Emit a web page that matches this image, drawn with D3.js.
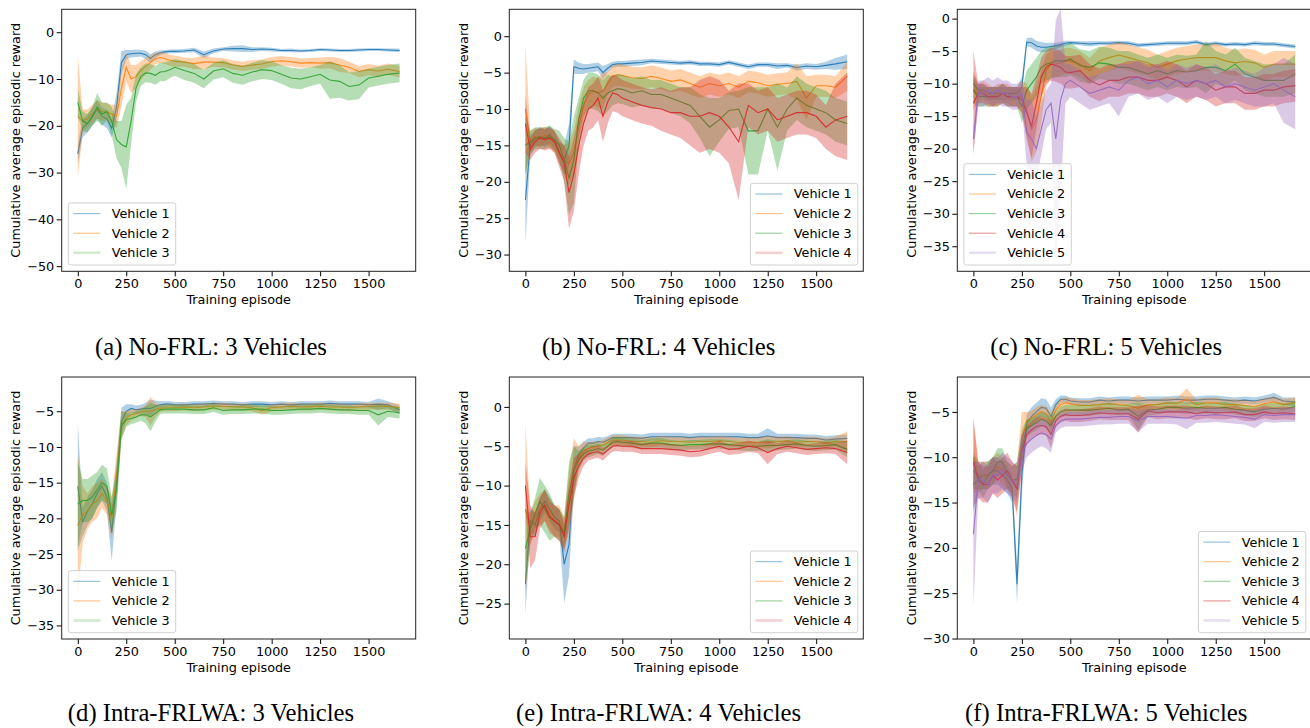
<!DOCTYPE html>
<html>
<head>
<meta charset="utf-8">
<script src="https://cdn.jsdelivr.net/npm/d3@7"></script>
<style>
  body { margin: 0; background: #fff; }
  svg { display: block; }
  .tick text { font-family: "DejaVu Sans", sans-serif; font-size: 12.8px; fill: #000; }
  .tick line { stroke: #000; }
  .domain { display: none; }
</style>
</head>
<body>
<div id="chart"></div>
<script>
// shared episode grid for every series
const episodes = [0,25,50,75,100,125,150,175,200,225,250,275,300,325,350,375,400,425,450,475,500,
  550,600,650,700,750,800,850,900,950,1000,1050,1100,1150,1200,1250,1300,1350,1400,1450,1500,1550,1600,1660];

const xTicks = [0,250,500,750,1000,1250,1500];

// (a) No-FRL: 3 vehicles
const a_v1 = [-26,-20.5,-19.5,-18,-16.5,-18,-18.5,-20.5,-16,-6.5,-4.8,-4.6,-4.5,-4.5,-4.8,-5.6,-4.8,-4.4,-4.2,-4.1,-4.1,
  -4.0,-3.8,-4.8,-4.0,-3.6,-3.5,-3.5,-3.7,-3.6,-3.7,-3.9,-3.9,-4.0,-3.9,-3.7,-3.8,-3.9,-3.9,-3.8,-3.7,-3.7,-3.8,-3.9];
const a_v1_band = [2,2,1.8,2,2,1.8,2,2,3,2.5,1,0.8,0.8,0.7,0.9,0.9,0.7,0.5,0.4,0.4,0.4,
  0.4,0.5,0.7,0.5,0.4,0.6,0.7,0.5,0.4,0.4,0.3,0.4,0.3,0.3,0.3,0.3,0.3,0.3,0.3,0.3,0.3,0.3,0.4];
const a_v2 = [-18,-19,-18.5,-17.5,-16.5,-17,-17,-17.5,-18,-12,-7.5,-10,-9.5,-8.2,-7.3,-6.5,-5.7,-5.4,-5.6,-6.0,-6.2,
  -6.4,-6.7,-6.4,-6.4,-6.5,-7.0,-7.3,-7.0,-6.8,-6.3,-6.1,-6.3,-6.6,-6.5,-6.6,-6.5,-7.0,-7.5,-8.4,-8.0,-8.3,-7.9,-8.4];
const a_v2_band = [13,2.5,2,2,2,2,1.8,2,2.5,4,3,3,2.5,2,1.8,1.5,1.2,1.2,1.2,1.2,1.2,
  1.0,1.2,1.5,1.0,1.0,1.0,1.0,1.0,1.0,1.0,1.0,1.0,1.0,1.0,1.2,1.2,1.5,1.2,1.2,1.2,1.2,1.2,1.2];
const a_v3 = [-15,-19,-19.5,-18,-16,-17.5,-17,-19,-23,-24,-24.5,-19,-12,-9.5,-8.7,-8.8,-9.2,-8.5,-8.4,-8.0,-7.5,
  -8.2,-8.8,-10.0,-8.3,-7.8,-8.8,-9.2,-8.5,-8.0,-8.2,-9.0,-9.8,-10.0,-9.5,-9.0,-10.2,-10.5,-11.6,-11.3,-9.8,-9.4,-9.0,-8.7];
const a_v3_band = [3,2,2,2,3,2.5,2,3,4,5,9,5,3,2,2,2,2,2,2,1.8,1.8,
  2,2,2,1.8,1.8,2,2,2,2,2,2,2.2,2.2,2,2,4,3.5,3,3,2,2,2,2];

// (b) No-FRL: 4 vehicles
const b_v1 = [-22.5,-15,-14,-13.8,-14,-13.5,-14.3,-16,-17,-15,-4.2,-4.4,-4.5,-4.4,-4.3,-4.2,-5.0,-4.4,-3.9,-3.8,-3.8,
  -3.7,-3.6,-3.4,-3.5,-3.6,-3.7,-3.6,-3.8,-3.8,-3.9,-3.6,-3.9,-4.2,-3.9,-3.9,-4.1,-4.0,-4.3,-4.1,-4.2,-4.0,-3.8,-3.5];
const b_v1_band = [6,1.5,1.2,1.2,1.2,1.2,1.2,1.5,2,3,1,0.8,0.7,0.6,0.6,0.6,0.9,0.6,0.4,0.4,0.4,
  0.4,0.4,0.3,0.3,0.3,0.3,0.3,0.3,0.3,0.3,0.3,0.3,0.3,0.3,0.3,0.4,0.3,0.4,0.4,0.4,0.5,0.8,1.0];
const b_v2 = [-10,-14.5,-13.8,-14,-13.6,-14,-14.5,-16,-17,-17.5,-16,-12.5,-9.5,-8.0,-7.5,-7.8,-7.5,-6.5,-5.5,-5.3,-5.4,
  -5.7,-5.8,-5.5,-5.8,-6.2,-6.0,-6.5,-7.0,-6.5,-6.8,-6.5,-7.0,-6.2,-6.4,-6.8,-6.6,-6.5,-6.2,-8.5,-6.8,-6.8,-7.0,-5.5];
const b_v2_band = [9,1.5,1.2,1.2,1.2,1.2,1.5,1.5,2,3,3,3,2.5,2,2,2,2.5,1.5,1.5,1.5,1.5,
  1.5,1.5,1.5,1.5,1.5,1.5,1.5,1.5,1.5,1.5,1.5,1.5,1.5,1.5,1.5,1.5,1.5,2.5,3,1.5,1.5,1.5,2];
const b_v3 = [-15,-14.5,-14,-14,-14,-13.8,-14.2,-15,-17,-19.5,-17,-11.5,-8.5,-7.5,-7.5,-7.8,-8.5,-7.8,-7.5,-7.2,-7.3,
  -7.8,-7.5,-8.0,-8.0,-8.5,-9.0,-9.5,-11.0,-12.5,-11.5,-10.2,-10.0,-13.0,-13.0,-10.0,-12.5,-10.0,-8.5,-9.5,-10.0,-10.5,-11.5,-12.0];
const b_v3_band = [4,1.5,1.5,1.5,1.5,1.5,1.5,2,3,5,6,3,2.5,2.5,2.5,2.5,2.5,2.5,2,2,2,
  2,2,2,2,2,2,2.5,3,4,3,2.5,2.5,6,6,3,6,3,3,3,3,3,3,3];
const b_v4 = [-12,-15.5,-14.5,-14,-14.2,-14,-14.5,-16,-17.5,-21.5,-19,-15,-12,-10,-9.5,-8.5,-11,-9,-7.8,-8.0,-8.5,
  -9.0,-9.5,-9.8,-10.0,-10.5,-10.5,-11.0,-11.0,-10.5,-11.0,-12.5,-14.5,-9.5,-10.5,-10.0,-11.5,-11.0,-10.5,-10.5,-11.0,-12.5,-11.5,-11.0];
const b_v4_band = [4,1.5,1.5,1.5,1.5,1.5,1.5,2,2.5,5,5,4,3,3,3,3,3.5,3,2.5,2.5,2.5,
  2.5,2.5,2.5,3,3,3.5,4,5,5,5,5,8,3,3,3,3,3,3,3,3,3,5,6];

// (c) No-FRL: 5 vehicles
const c_v1 = [-10,-11,-11,-11.5,-11.5,-11.5,-11.5,-11.5,-11.5,-11.5,-10.5,-3.6,-3.7,-4.2,-4.4,-4.4,-4.3,-4.2,-4.0,-3.8,-3.7,
  -3.8,-3.9,-3.8,-3.8,-3.7,-3.8,-4.1,-4.0,-3.9,-3.8,-3.8,-3.8,-3.6,-4.0,-3.8,-4.0,-3.9,-4.0,-3.8,-3.9,-3.9,-4.1,-4.3];
const c_v1_band = [1.5,1,1,1,1,1,1,1,1,1,1.5,0.6,0.8,0.8,0.8,0.7,0.6,0.5,0.4,0.4,0.3,
  0.3,0.4,0.3,0.3,0.3,0.3,0.3,0.3,0.3,0.3,0.3,0.3,0.3,0.3,0.3,0.3,0.3,0.3,0.3,0.3,0.3,0.3,0.3];
const c_v2 = [-11,-11.5,-11,-11.5,-12,-11.5,-11.5,-11.5,-12,-12,-12,-14,-17,-15.5,-12,-8,-7,-7,-6.8,-6.5,-6.5,
  -7.0,-8.0,-6.5,-6.0,-5.6,-6.0,-6.4,-6.8,-7.5,-7.0,-6.5,-6.2,-6.0,-6.0,-6.0,-6.5,-6.8,-6.6,-6.8,-7.5,-7.0,-7.0,-7.0];
const c_v2_band = [3,1.5,1.5,1.5,1.5,1.5,1.5,1.5,1.5,1.5,2.5,4,5,5,4,2.5,2,2,2,2,2,
  2,2,2,2,2,2,2,2,2,2,2,2,2,2,2.2,2,2,2,2,2,2,2,2];
const c_v3 = [-11,-12,-12,-12,-12,-12,-11.5,-12,-12,-12,-13.5,-11,-10,-9,-7.5,-7,-6.8,-6.5,-6.5,-6.5,-6.2,
  -7.2,-7.5,-6.8,-7.0,-7.5,-7.5,-8.0,-8.5,-8.0,-8.5,-8.0,-8.2,-8.0,-7.5,-7.5,-8.0,-7.0,-8.5,-9.0,-9.5,-9.5,-9.5,-8.5];
const c_v3_band = [2,1.5,1.5,1.5,1.5,1.5,1.5,1.5,1.5,1.5,2.5,3,3,3,2.5,2.5,2.5,2.5,2.5,2.5,2.5,
  2.5,2.5,2.5,2.5,2.5,2.5,2.5,2.5,2.5,2.5,2.5,2.5,2.5,4,2.5,2.5,2.5,2.5,2.5,2.5,2.5,2.5,3];
const c_v4 = [-13,-11.5,-11.5,-12,-12,-12,-11.5,-12,-12,-12,-12.5,-14.5,-16.5,-13,-9,-7.5,-7,-7.2,-7.5,-8.2,-8.3,
  -8.0,-9.5,-10.2,-9.5,-9.5,-9.0,-9.0,-9.5,-9.5,-9.0,-9.5,-10.5,-9.5,-10.0,-11.0,-10.5,-10.5,-11.5,-11.5,-11.0,-11.0,-10.5,-10.3];
const c_v4_band = [8,1.5,1.5,1.5,1.5,1.5,1.5,1.5,1.5,1.5,2,4,5,4,3,2.5,2.5,2.5,2.5,2.5,2.5,
  2.5,2.5,2.5,2.5,2.5,2.5,2.5,2.5,2.5,2.5,2.5,2.5,2.5,2.5,2.5,2.5,2.5,2.5,2.5,2.5,2.5,2.5,2.5];
const c_v5 = [-18.5,-11.5,-11.5,-11,-11.5,-11,-11.5,-11.5,-12,-12,-11.5,-17.5,-18.5,-20,-17,-14,-13,-18.5,-12.5,-10,-9.5,
  -10.5,-11.5,-11.0,-10.5,-11.0,-9.5,-9.0,-10.0,-9.5,-10.5,-9.5,-10.0,-9.5,-10.0,-9.5,-10.5,-10.0,-10.5,-11.0,-10.5,-10.0,-11.0,-12.0];
const c_v5_band = [2,2,2,2,2,2,2,2,2,2,2,5,6,5,4,3,3,18.2,14,3,2.5,
  2.5,2.5,2.5,2.5,4,2.5,2.5,2.5,2.5,2.5,2.5,2.5,2.5,2.5,2.5,2.5,2.5,2.5,2.5,3,3,5,5];

// (d) Intra-FRLWA: 3 vehicles
const d_v1 = [-15.5,-20.5,-19,-18,-16.5,-15.5,-17,-22,-15,-6.5,-5,-4.6,-4.8,-4.7,-4.6,-4.6,-4.3,-4.1,-4.0,-4.0,-4.1,
  -4.1,-4.0,-4.0,-3.9,-4.0,-4.0,-4.1,-4.0,-4.0,-4.1,-4.0,-4.1,-4.0,-4.0,-4.0,-3.9,-4.0,-4.0,-4.0,-4.1,-4.0,-4.1,-4.8];
const d_v1_band = [9,2,2,2,2,2,2,4,3,2,1,0.6,0.6,0.6,0.8,1.2,0.8,0.5,0.4,0.4,0.4,
  0.4,0.4,0.4,0.4,0.4,0.4,0.4,0.4,0.4,0.4,0.4,0.4,0.4,0.4,0.4,0.4,0.4,0.4,0.4,0.4,0.8,0.5,0.6];
const d_v2 = [-21,-19.5,-19,-18,-17.5,-16.5,-17.5,-20,-14,-7,-6,-5.5,-5.3,-5.1,-5.0,-5.0,-4.8,-4.6,-4.5,-4.5,-4.5,
  -4.4,-4.5,-4.4,-4.3,-4.3,-4.4,-4.4,-4.5,-4.9,-4.5,-4.4,-4.3,-4.4,-4.4,-4.3,-4.4,-4.4,-4.5,-4.4,-4.3,-4.3,-4.3,-4.5];
const d_v2_band = [10,4,2.5,2.5,2.5,2,2,3,3,2,1,0.8,0.6,0.6,0.8,2,1,0.5,0.5,0.5,0.5,
  0.5,0.5,0.5,0.5,0.5,0.5,0.5,0.5,0.6,0.5,0.5,0.5,0.5,0.5,0.5,0.5,0.5,0.5,0.5,0.5,0.5,0.5,0.6];
const d_v3 = [-18,-17.5,-17.5,-17,-16,-15,-15.5,-19.5,-16,-7,-6.2,-6.0,-5.8,-5.5,-5.5,-5.8,-5.3,-4.8,-4.7,-4.7,-4.7,
  -4.7,-4.8,-4.8,-4.5,-4.9,-4.8,-4.8,-4.7,-4.7,-4.9,-4.9,-4.8,-4.7,-4.7,-4.6,-4.7,-4.8,-4.8,-4.9,-4.9,-5.5,-5.0,-5.2];
const d_v3_band = [6,3,3,3,2.5,2.5,2.5,2.5,3,2,1,0.8,0.8,0.8,1.2,2,1.2,0.6,0.6,0.6,0.6,
  0.6,0.6,0.6,0.6,0.6,0.6,0.6,0.6,0.6,0.6,0.6,0.6,0.6,0.6,0.6,0.6,0.6,0.6,0.6,0.6,1.5,0.8,0.8];

// (e) Intra-FRLWA: 4 vehicles
const e_v1 = [-22.5,-14.5,-15,-13,-12,-13,-14,-14.5,-20,-17.5,-8,-6.0,-5.2,-4.6,-4.6,-4.4,-4.5,-4.2,-3.9,-3.9,-3.9,
  -3.9,-4.0,-3.8,-3.8,-3.8,-3.8,-3.9,-3.8,-3.8,-3.8,-3.8,-3.8,-3.9,-3.9,-3.7,-3.9,-3.9,-3.9,-4.0,-4.0,-4.2,-4.1,-4.0];
const e_v1_band = [4,1.5,1.5,1.5,1.5,1.5,1.5,1.5,5,4,3,1,0.8,0.6,0.6,0.6,0.6,0.5,0.5,0.5,0.5,
  0.5,0.5,0.5,0.5,0.5,0.5,0.5,0.5,0.5,0.5,0.5,0.5,0.5,0.5,1,0.5,0.5,0.5,0.5,0.5,0.5,0.5,0.5];
const e_v2 = [-13,-15.5,-14,-13,-12.5,-13.5,-14.5,-14.5,-16,-12,-8,-6.5,-5.5,-5.3,-5.0,-5.0,-4.8,-4.5,-4.2,-4.2,-4.2,
  -4.4,-4.4,-4.5,-4.3,-4.4,-4.4,-4.5,-4.4,-4.4,-4.3,-4.4,-4.5,-4.5,-4.5,-4.5,-4.4,-4.3,-4.5,-4.4,-4.4,-4.6,-4.4,-4.4];
const e_v2_band = [11,2,2,2,2,2,2,2,2,4,4,1.5,1,0.8,0.6,0.6,0.6,0.6,0.6,0.6,0.6,
  0.6,0.6,0.6,0.6,0.6,0.6,0.6,0.6,0.6,0.6,0.6,0.6,0.6,0.6,0.8,0.6,0.6,0.6,0.6,0.6,0.6,0.6,1.3];
const e_v3 = [-18,-15.5,-13.5,-12,-13,-14,-14.5,-15,-16,-11,-8,-6.8,-6.0,-5.6,-5.5,-5.3,-5.5,-5.0,-4.5,-4.4,-4.5,
  -4.6,-4.8,-4.6,-4.6,-4.8,-4.9,-4.8,-4.8,-4.7,-4.7,-4.8,-4.9,-5.0,-5.0,-4.9,-4.9,-4.8,-4.7,-4.9,-5.0,-4.9,-4.8,-5.4];
const e_v3_band = [5,2,2,3,3,3,2,2,2,4,3,1.2,0.8,0.8,0.7,0.7,0.7,0.6,0.6,0.6,0.6,
  0.6,0.6,0.6,0.6,0.6,0.6,0.6,0.6,0.6,0.6,0.6,0.6,0.6,0.6,0.8,0.6,0.6,0.6,0.6,0.6,0.6,0.6,1.0];
const e_v4 = [-10,-16.5,-16.5,-13.5,-12.5,-14,-14.5,-15,-16.5,-12.5,-9,-7.5,-6.5,-6.0,-5.8,-5.7,-6.0,-5.5,-5.0,-4.9,-5.0,
  -5.0,-5.3,-5.3,-5.3,-5.4,-5.5,-5.7,-5.6,-5.3,-5.0,-5.4,-5.3,-5.0,-5.2,-5.8,-5.3,-5.0,-5.2,-5.4,-5.3,-5.2,-5.3,-5.8];
const e_v4_band = [3,4,3,2,2,2,2,2,2,3,2.5,1.5,1,0.8,0.8,0.8,0.8,0.7,0.7,0.7,0.7,
  0.7,0.7,0.7,0.7,0.7,0.7,0.7,0.7,0.7,0.7,0.7,0.7,0.7,0.7,1.5,0.7,0.7,0.7,0.7,0.7,0.7,0.7,1.5];

// (f) Intra-FRLWA: 5 vehicles
const f_v1 = [-13,-12.5,-12,-12,-11.5,-11.5,-12,-12.5,-13.5,-24,-12,-6.3,-5.5,-5.0,-4.5,-4.6,-5.5,-4.2,-3.6,-3.6,-3.8,
  -3.9,-3.9,-3.7,-3.8,-3.7,-3.7,-3.8,-3.7,-3.7,-3.7,-3.6,-3.7,-3.7,-3.6,-3.6,-3.7,-3.8,-3.7,-3.8,-3.6,-3.4,-3.8,-3.9];
const f_v1_band = [3,1.5,1.5,1.5,1.5,1.5,1.5,1.5,1.5,2.2,2,1,1,1,1,1,1,0.6,0.4,0.4,0.4,
  0.4,0.4,0.4,0.4,0.4,0.4,0.4,0.4,0.4,0.4,0.4,0.4,0.4,0.4,0.4,0.4,0.4,0.4,0.4,0.4,0.5,0.4,0.5];
const f_v2 = [-10,-12,-12,-12,-11.5,-11,-11.5,-12,-12.5,-13.5,-8,-6.0,-5.7,-5.3,-5.0,-5.2,-6.0,-4.8,-4.2,-4.0,-4.1,
  -4.3,-4.3,-4.2,-4.1,-4.2,-4.3,-4.6,-4.2,-4.2,-4.0,-4.1,-3.6,-4.2,-4.0,-4.0,-4.2,-4.2,-4.3,-4.4,-4.1,-3.9,-4.2,-4.0];
const f_v2_band = [4,1.5,1.5,1.5,1.5,1.5,1.5,1.5,1.5,3,3,1,0.8,0.8,0.8,0.8,1,0.6,0.6,0.6,0.6,
  0.6,0.6,0.6,0.6,0.6,0.6,1.5,0.6,0.6,0.6,0.6,1.2,0.6,0.6,0.6,0.6,0.6,0.6,0.6,0.6,0.6,0.6,0.6];
const f_v3 = [-11.5,-12,-13,-12,-11.5,-10.5,-10.5,-12,-12.5,-12.5,-9,-6.8,-6.5,-6.2,-5.8,-6.0,-6.5,-5.5,-5.0,-4.8,-4.8,
  -4.8,-4.8,-4.7,-4.6,-4.8,-4.7,-5.5,-4.8,-4.7,-4.5,-4.5,-4.6,-4.5,-4.6,-4.6,-4.5,-4.7,-4.8,-5.0,-4.7,-4.6,-4.7,-4.4];
const f_v3_band = [2,1.5,1.5,1.5,1.5,1.5,1.5,1.5,1.5,2,2,1,0.8,0.8,0.8,0.8,1,0.6,0.6,0.6,0.6,
  0.6,0.6,0.6,0.6,0.6,0.6,1.5,0.6,0.6,0.6,0.6,0.6,0.6,0.6,0.6,0.6,0.6,0.6,0.6,0.6,0.6,0.6,0.6];
const f_v4 = [-10.5,-12.5,-13,-13,-12,-12.5,-12,-11.5,-12.5,-13.5,-9.5,-7.5,-7.0,-6.6,-6.5,-6.6,-7.5,-6.0,-5.5,-5.3,-5.4,
  -5.4,-5.3,-5.1,-5.2,-5.2,-5.2,-5.8,-4.9,-5.1,-5.0,-5.0,-5.0,-5.2,-5.0,-5.1,-5.1,-5.0,-5.3,-5.3,-5.0,-5.2,-5.1,-5.2];
const f_v4_band = [5,2,2,2,2,2,2,2,2,2.5,2,1,1,1,1,1,1.5,0.7,0.7,0.7,0.7,
  0.7,0.7,0.7,0.7,0.7,0.7,1.5,0.7,0.7,0.7,0.7,0.7,0.7,0.7,0.7,0.7,0.7,0.7,0.7,0.7,0.7,0.7,0.7];
const f_v5 = [-18.5,-12.5,-12.5,-13,-12,-12,-11.5,-12,-12.5,-13,-9.5,-8.5,-8.0,-7.6,-7.3,-7.5,-8.0,-6.5,-6.0,-5.8,-5.8,
  -5.8,-5.7,-5.6,-5.6,-5.5,-5.5,-6.0,-5.5,-5.5,-5.5,-5.6,-5.7,-5.4,-5.4,-5.3,-5.4,-5.5,-5.6,-5.8,-5.3,-5.4,-5.3,-5.3];
const f_v5_band = [8,2,2,2,2,2,2,2,2,2,2,1.5,1.5,1.5,1.5,1.5,1.5,0.8,0.8,0.8,0.8,
  0.8,0.8,0.8,0.8,0.8,0.8,1.2,0.8,0.8,0.8,0.8,1.2,0.8,0.8,0.8,0.8,0.8,0.8,1,0.8,0.8,0.8,0.8];

const colors = ["#1f77b4", "#ff7f0e", "#2ca02c", "#d62728", "#9467bd"];

const panels = [
  {left: 61.7, top: 9.3, yDomain: [-51.1, 4.9], yTicks: [0,-10,-20,-30,-40,-50], legend: "left",
   caption: "(a) No-FRL: 3 Vehicles", capX: 211, capY: 355,
   series: [[a_v1, a_v1_band], [a_v2, a_v2_band], [a_v3, a_v3_band]]},
  {left: 509.3, top: 9.3, yDomain: [-32.3, 3.7], yTicks: [0,-5,-10,-15,-20,-25,-30], legend: "right",
   caption: "(b) No-FRL: 4 Vehicles", capX: 658.6, capY: 355,
   series: [[b_v1, b_v1_band], [b_v2, b_v2_band], [b_v3, b_v3_band], [b_v4, b_v4_band]]},
  {left: 957.3, top: 9.3, yDomain: [-38.85, 1.43], yTicks: [0,-5,-10,-15,-20,-25,-30,-35], legend: "left",
   caption: "(c) No-FRL: 5 Vehicles", capX: 1106.2, capY: 355,
   series: [[c_v1, c_v1_band], [c_v2, c_v2_band], [c_v3, c_v3_band], [c_v4, c_v4_band], [c_v5, c_v5_band]]},
  {left: 61.7, top: 377, yDomain: [-36.9, -0.2], yTicks: [-5,-10,-15,-20,-25,-30,-35], legend: "left",
   caption: "(d) Intra-FRLWA: 3 Vehicles", capX: 211, capY: 721,
   series: [[d_v1, d_v1_band], [d_v2, d_v2_band], [d_v3, d_v3_band]]},
  {left: 509.3, top: 377, yDomain: [-29.5, 3.8], yTicks: [0,-5,-10,-15,-20,-25], legend: "right",
   caption: "(e) Intra-FRLWA: 4 Vehicles", capX: 658.6, capY: 721,
   series: [[e_v1, e_v1_band], [e_v2, e_v2_band], [e_v3, e_v3_band], [e_v4, e_v4_band]]},
  {left: 957.3, top: 377, yDomain: [-30.05, -1.15], yTicks: [-5,-10,-15,-20,-25,-30], legend: "right",
   caption: "(f) Intra-FRLWA: 5 Vehicles", capX: 1106.2, capY: 721,
   series: [[f_v1, f_v1_band], [f_v2, f_v2_band], [f_v3, f_v3_band], [f_v4, f_v4_band], [f_v5, f_v5_band]]}
];

const W = 1310, H = 728;
const pw = 354, ph = 262;
const fmt = d => d < 0 ? "\u2212" + Math.abs(d) : String(d);

const svg = d3.select("#chart").append("svg")
  .attr("width", W).attr("height", H);

panels.forEach((p, pi) => {
  let g = svg.append("g").attr("transform", `translate(${p.left},${p.top})`);

  let x = d3.scaleLinear().domain([-83, 1743]).range([0, pw]);
  let y = d3.scaleLinear().domain(p.yDomain).range([ph, 0]);

  g.append("clipPath").attr("id", "clip" + pi)
    .append("rect").attr("width", pw).attr("height", ph);

  let plot = g.append("g").attr("clip-path", `url(#clip${pi})`);

  // band then mean line, one series after another
  p.series.forEach((s, si) => {
    let mean = s[0], band = s[1];
    let pts = episodes.map((e, i) => ({e: e, m: mean[i], b: band[i]}));

    let area = d3.area()
      .x(d => x(d.e))
      .y0(d => y(d.m - d.b))
      .y1(d => y(d.m + d.b));
    let line = d3.line()
      .x(d => x(d.e))
      .y(d => y(d.m));

    plot.append("path").datum(pts)
      .attr("d", area)
      .attr("fill", colors[si])
      .attr("fill-opacity", 0.35)
      .attr("stroke", "none");
    plot.append("path").datum(pts)
      .attr("d", line)
      .attr("fill", "none")
      .attr("stroke", colors[si])
      .attr("stroke-width", 1.1)
      .attr("stroke-opacity", 0.9);
  });

  // axes
  g.append("g").attr("transform", `translate(0,${ph})`)
    .call(d3.axisBottom(x).tickValues(xTicks).tickSize(5).tickPadding(3).tickFormat(d => d));
  g.append("g")
    .call(d3.axisLeft(y).tickValues(p.yTicks).tickSize(5).tickPadding(2.5).tickFormat(fmt));

  g.append("rect")
    .attr("width", pw).attr("height", ph)
    .attr("fill", "none").attr("stroke", "#222").attr("stroke-width", 1);

  g.append("text")
    .attr("x", pw / 2).attr("y", ph + 32.5)
    .attr("text-anchor", "middle")
    .style("font-family", "DejaVu Sans, sans-serif").style("font-size", "12.8px")
    .text("Training episode");

  g.append("text")
    .attr("transform", `translate(-41.5,${ph / 2}) rotate(-90)`)
    .attr("text-anchor", "middle")
    .style("font-family", "DejaVu Sans, sans-serif").style("font-size", "12.8px")
    .text("Cumulative average episodic reward");

  // legend
  let n = p.series.length;
  let lw = 107.4, lh = n * 19.6 + 3.3;
  let lx = p.legend === "left" ? 6.6 : pw - 5.5 - lw;
  let ly = ph - 6.3 - lh;
  let leg = g.append("g").attr("transform", `translate(${lx},${ly})`);
  leg.append("rect")
    .attr("width", lw).attr("height", lh).attr("rx", 2.5)
    .attr("fill", "#fff").attr("fill-opacity", 0.8)
    .attr("stroke", "#d0d0d0").attr("stroke-width", 1);
  p.series.forEach((s, si) => {
    let cy = 10.7 + si * 19.6;
    let last = si === n - 1;
    leg.append("line")
      .attr("x1", 5).attr("x2", 32).attr("y1", cy).attr("y2", cy)
      .attr("stroke", colors[si])
      .attr("stroke-width", last ? 2.6 : 1.1)
      .attr("stroke-opacity", last ? 0.22 : 0.5);
    leg.append("text")
      .attr("x", 43.4).attr("y", cy)
      .attr("dominant-baseline", "central")
      .style("font-family", "DejaVu Sans, sans-serif").style("font-size", "12.8px")
      .text("Vehicle " + (si + 1));
  });

  // subfigure caption
  svg.append("text")
    .attr("x", p.capX).attr("y", p.capY)
    .attr("text-anchor", "middle")
    .style("font-family", "Liberation Serif, Times New Roman, serif").style("font-size", "24.7px")
    .text(p.caption);
});
</script>
</body>
</html>
